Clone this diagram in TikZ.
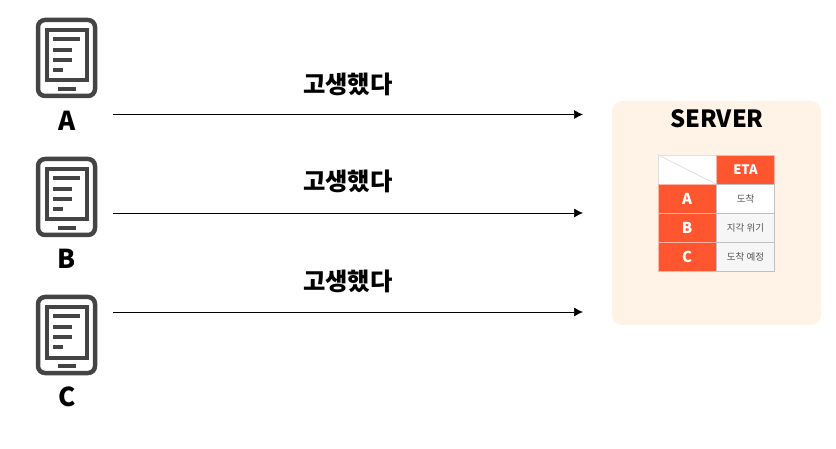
\documentclass[tikz,border=0pt]{standalone}
\usepackage{fontspec}
\setmainfont{Noto Sans CJK KR}
\usetikzlibrary{arrows.meta}
\definecolor{serverbg}{HTML}{FFF3E7}
\definecolor{etared}{HTML}{FF5630}
\definecolor{tabletgray}{HTML}{444444}
\definecolor{cellgray}{HTML}{F6F6F6}
\definecolor{celltext}{HTML}{555555}
\tikzset{
  x=1pt,y=-1pt,
  msgarrow/.style={-{Latex[length=9pt,width=9pt]},line width=0.7pt,black},
  msglabel/.style={font=\fontsize{24.3}{24.3}\selectfont\bfseries,black,inner sep=0pt},
  devlabel/.style={font=\fontsize{26}{26}\selectfont\bfseries,black,inner sep=0pt},
  headcell/.style={fill=etared,draw=etared!45!white,line width=0.8pt,minimum width=58pt,minimum height=29pt,inner sep=0pt,text=white,font=\fontsize{13}{13}\selectfont\bfseries},
  bodycell/.style={fill=#1,draw=black!25,line width=0.8pt,minimum width=58pt,minimum height=29pt,inner sep=0pt,text=celltext,font=\fontsize{9.5}{9.5}\selectfont},
  pics/tablet/.style={code={
    \draw[tabletgray,line width=4.5pt,rounded corners=7pt] (2,2) rectangle (59,78);
    \draw[tabletgray,line width=4pt] (10.5,12.5) rectangle (50.5,62.5);
    \draw[tabletgray,line width=4.5pt] (17,21) -- (44,21);
    \draw[tabletgray,line width=4.5pt] (17,32) -- (36,32);
    \draw[tabletgray,line width=4.5pt] (17,42) -- (36,42);
    \draw[tabletgray,line width=4.5pt] (17,52) -- (27,52);
    \draw[tabletgray,line width=4.5pt] (22,71) -- (40,71);
  }}
}
\begin{document}
\begin{tikzpicture}
  \useasboundingbox (0,0) rectangle (836,449);

  %devices
  \pic at (36,18) {tablet};
  \pic at (36,157) {tablet};
  \pic at (36,295) {tablet};
  \node[devlabel] (devA) at (67,121) {A};
  \node[devlabel] (devB) at (67,259) {B};
  \node[devlabel] (devC) at (67,397) {C};

  %arrows
  \coordinate (startA) at (113,114.5);
  \coordinate (startB) at (113,213);
  \coordinate (startC) at (113,312);
  \coordinate (endA) at (583,114.5);
  \coordinate (endB) at (583,213);
  \coordinate (endC) at (583,312);
  \draw[msgarrow] (startA) -- (endA);
  \draw[msgarrow] (startB) -- (endB);
  \draw[msgarrow] (startC) -- (endC);
  \node[msglabel] (msgA) at (347.8,84) {고생했다};
  \node[msglabel] (msgB) at (347.8,181) {고생했다};
  \node[msglabel] (msgC) at (347.8,281) {고생했다};

  %server
  \fill[serverbg,rounded corners=10pt] (612,101) rectangle (821,325);
  \node[font=\fontsize{23.7}{23.7}\selectfont\bfseries,inner sep=0pt] (server) at (717,119) {SERVER};

  %table
  \node[bodycell=white,draw=black!12] (corner) at (687,169.5) {};
  \draw[black!12,line width=0.8pt] (corner.north west) -- (corner.south east);
  \node[headcell] (eta) at (745.5,169.5) {ETA};
  \node[headcell,font=\fontsize{15}{15}\selectfont\bfseries] (rowA) at (687,198.8) {A};
  \node[headcell,font=\fontsize{15}{15}\selectfont\bfseries] (rowB) at (687,228) {B};
  \node[headcell,font=\fontsize{15}{15}\selectfont\bfseries] (rowC) at (687,257) {C};
  \node[bodycell=white] (etaA) at (745.5,198.8) {도착};
  \node[bodycell=cellgray] (etaB) at (745.5,228) {지각 위기};
  \node[bodycell=cellgray] (etaC) at (745.5,257) {도착 예정};
\end{tikzpicture}
\end{document}
